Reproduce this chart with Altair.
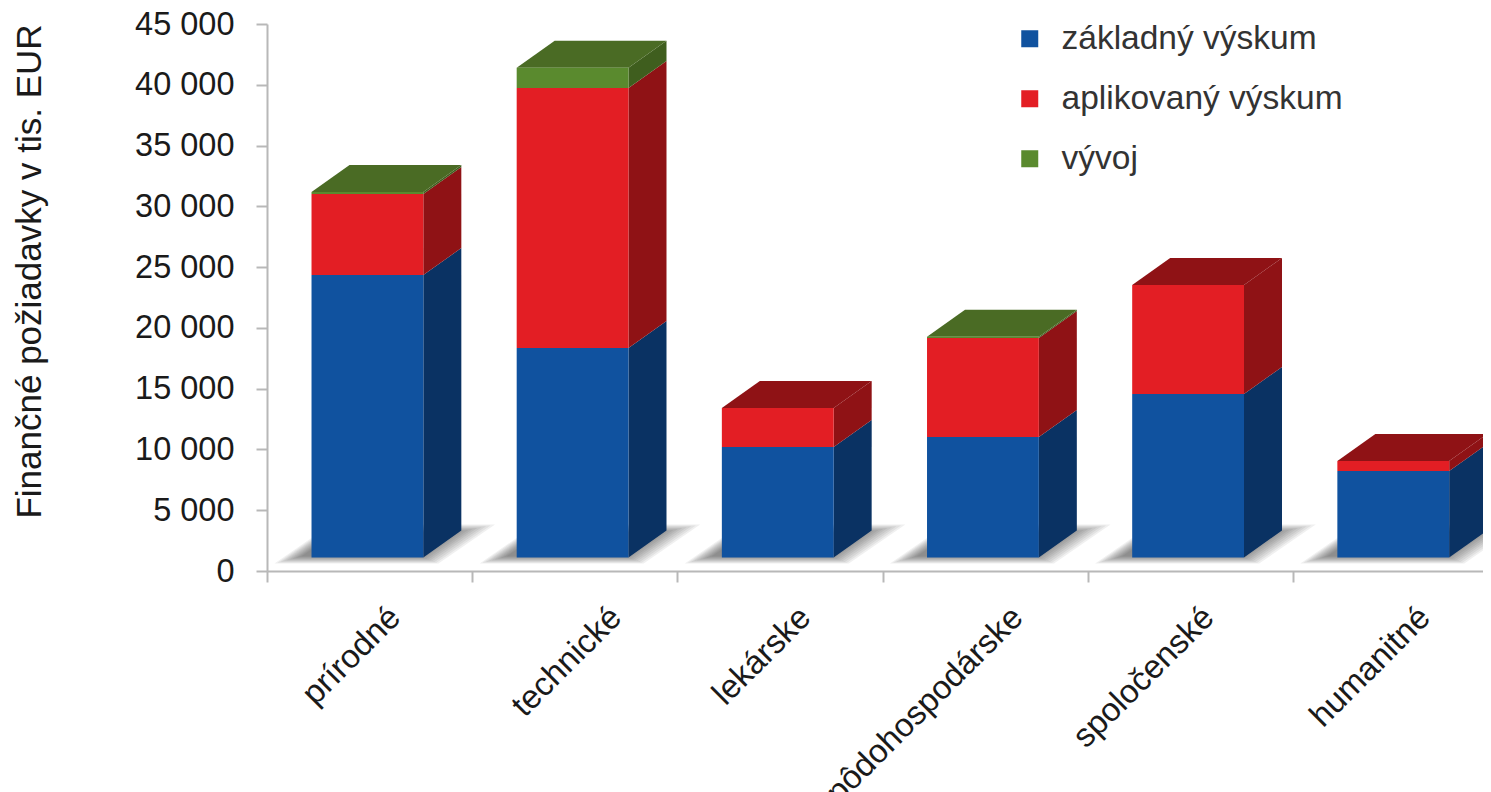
import altair as alt
import pandas as pd

categories = ["prírodné", "technické", "lekárske", "pôdohospodárske", "spoločenské", "humanitné"]
series = ["základný výskum", "aplikovaný výskum", "vývoj"]
zakladny = [23240, 17240, 9090, 9910, 13450, 7120]
aplikovany = [6660, 21390, 3210, 8150, 8970, 820]
vyvoj = [160, 1650, 0, 100, 0, 0]
y_ticks = [0, 5000, 10000, 15000, 20000, 25000, 30000, 35000, 40000, 45000]

front_colors = ["#10529F", "#E31E24", "#5A8A2E"]
side_colors = ["#0A3263", "#8F1215", "#3F5E1E"]
top_colors = ["#0A3263", "#8F1215", "#4A6B24"]
axis_grey = "#B8B8B8"
font = "Liberation Sans"

# projection of the pseudo-3D bars, in data units
PX_X = 1 / 205.2
PX_Y = 1000 / 12.155
BAR_START, BAR_END = 0.217, 0.762
DEPTH_X, DEPTH_Y = 38 * PX_X, 27 * PX_Y
FLOOR = 13.5 * PX_Y


def parallelogram(xl, xr, dx, low, high):
    """Four area vertices of a sheared rectangle."""
    return [
        dict(x=xl, y=low, y2=low),
        dict(x=xl + dx, y=high, y2=low),
        dict(x=xr, y=high, y2=low),
        dict(x=xr + dx, y=high, y2=high),
    ]


front, sides, tops, shadows = [], [], [], []
for i, cat in enumerate(categories):
    x0, x1 = i + BAR_START, i + BAR_END
    level = FLOOR
    top_idx = 0
    for s, vals in enumerate([zakladny, aplikovany, vyvoj]):
        v = vals[i]
        if v <= 0:
            continue
        front.append(dict(cat=cat, serie=s, name=series[s], x=x0, x2=x1, y=level, y2=level + v))
        for xx, shift in [(x1, 0), (x1 + DEPTH_X, DEPTH_Y)]:
            sides.append(dict(id=f"{i}-{s}", color=side_colors[s], order=s, x=xx, y=level + shift, y2=level + v + shift))
        level += v
        top_idx = s
    for p in parallelogram(x0, x1, DEPTH_X, level, level + DEPTH_Y):
        tops.append(dict(id=str(i), color=top_colors[top_idx], **p))
    for t in range(10):
        low = (7.5 + 0.8 * t) * PX_Y
        high = (46.5 - 0.9 * t) * PX_Y
        dx = 1.45 * (39 - 1.7 * t) * PX_X
        for p in parallelogram(x0 + (-37 + 3.0 * t) * PX_X, x0 + (127 - 2.0 * t) * PX_X, dx, low, high):
            shadows.append(dict(id=f"{i}-{t}", **p))

x_num = alt.Scale(domain=[0, 6], nice=False, zero=False)
y_scale = alt.Scale(domain=[0, 45000], nice=False)
X = alt.X("x:Q", scale=x_num, axis=None)
Y = alt.Y("y:Q", scale=y_scale, axis=None)
Y2 = alt.Y2("y2:Q")

label_offset_expr = (
    "datum.value == 'technické' ? 41 : datum.value == 'pôdohospodárske' ? 32 : "
    "datum.value == 'spoločenské' ? 18 : datum.value == 'humanitné' ? 29 : 25"
)

axes = alt.Chart(pd.DataFrame({"cat": categories, "v": [0] * 6})).mark_bar(opacity=0).encode(
    x=alt.X("cat:N", sort=categories, scale=alt.Scale(paddingInner=0, paddingOuter=0),
            axis=alt.Axis(title=None, tickBand="extent", labelAngle=-45, labelAlign="right", labelBaseline="middle",
                          labelFont=font, labelFontSize=33, labelColor="#1a1a1a", labelPadding=30,
                          labelOffset=alt.expr(label_offset_expr),
                          labelOverlap=False, labelBound=False, labelFlush=False, labelLimit=400,
                          domainColor=axis_grey, domainWidth=2, tickColor=axis_grey, tickWidth=2, tickSize=11,
                          grid=False)),
    y=alt.Y("v:Q", scale=y_scale,
            axis=alt.Axis(title="Finančné požiadavky v tis. EUR", titleFont=font, titleFontSize=35,
                          titleFontWeight="normal", titleColor="#1a1a1a", titleX=-220, titleY=247,
                          titleAlign="center", titleAngle=-90,
                          values=y_ticks, labelExpr="replace(format(datum.value, ','), ',', ' ')",
                          labelFont=font, labelFontSize=32.5, labelColor="#1a1a1a", labelPadding=22,
                          domainColor=axis_grey, domainWidth=2, tickColor=axis_grey, tickWidth=2, tickSize=11,
                          grid=False)),
)

shadow_layer = alt.Chart(pd.DataFrame(shadows)).mark_area(color="#303030", opacity=0.07).encode(
    x=X, y=Y, y2=Y2, detail="id:N")
side_layer = alt.Chart(pd.DataFrame(sides)).mark_area(opacity=1).encode(
    x=X, y=Y, y2=Y2, detail="id:N", color=alt.Color("color:N", scale=None))
top_layer = alt.Chart(pd.DataFrame(tops)).mark_area(opacity=1).encode(
    x=X, y=Y, y2=Y2, detail="id:N", color=alt.Color("color:N", scale=None))
front_layer = alt.Chart(pd.DataFrame(front)).mark_rect().encode(
    x=X, x2=alt.X2("x2:Q"), y=Y, y2=Y2,
    color=alt.Color("name:N", scale=alt.Scale(domain=series, range=front_colors),
                    legend=alt.Legend(title=None, orient="none", legendX=746, legendY=-2,
                                      symbolType="square", symbolSize=289, symbolStrokeWidth=0,
                                      labelFont=font, labelFontSize=33.5, labelColor="#333333",
                                      labelOffset=15, rowPadding=25, labelLimit=500)),
)

chart = alt.layer(axes, shadow_layer, side_layer, top_layer, front_layer).resolve_scale(
    x="independent", color="independent"
).resolve_axis(y="independent").properties(
    width=1231, height=547,
    autosize=alt.AutoSizeParams(type="none"),
    padding={"left": 259, "top": 16, "right": -15, "bottom": 221},
    background="white",
).configure_view(stroke=None)

chart.save("out.html", embed_options={"renderer": "svg", "actions": False})
